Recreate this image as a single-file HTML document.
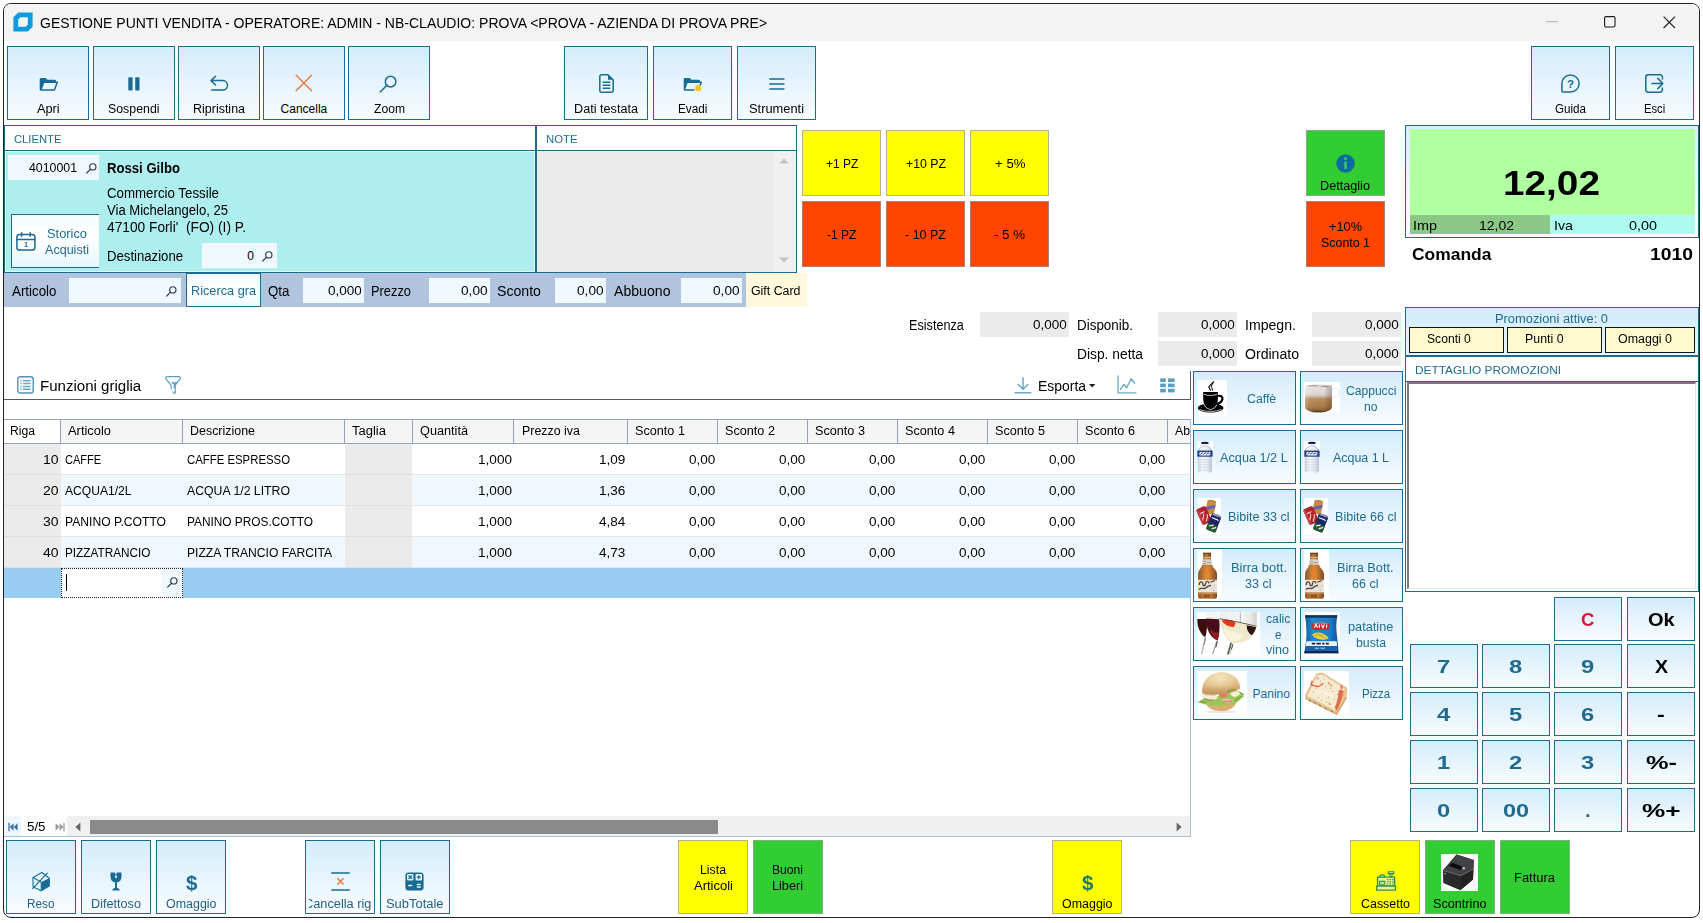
<!DOCTYPE html>
<html lang="it"><head><meta charset="utf-8"><title>Gestione Punti Vendita</title>
<style>

html,body{margin:0;padding:0}
body{width:1703px;height:923px;position:relative;overflow:hidden;background:#fff;font-family:"Liberation Sans",sans-serif;color:#000}
div,span,svg{position:absolute;box-sizing:border-box}
.t{white-space:pre;transform-origin:0 0}
.i{overflow:visible}
.b{border:1px solid #1f6b8f;background:linear-gradient(#d3ecfb,#f9fcff)}
.f{background:#f0f8ff}
.g{background:#ebebeb}
.y{background:#ffff00;border:1px solid #b4b48c}
.r{background:#ff4500;border:1px solid #b08070}
.gr{background:#32cd32;border:1px solid #7fb07f}

</style></head>
<body>
<div style="left:3px;top:3px;width:1697px;height:915px;border:1px solid #242424;border-radius:8px;background:#fff"></div>
<div style="left:4px;top:4px;width:1695px;height:37px;background:#f3f3f3;border-radius:7px 7px 0 0"></div>
<svg class="i" style="left:13px;top:12px" width="20" height="20" viewBox="0 0 20 20"><path d="M5.2.4H19.6V14.8L14.8 19.6H.4V5.2z" fill="#0f9ade"/><path d="M7.4 5.2h7.4v7.4l-2.2 2.2H5.2V7.4z" fill="#f0f9ff"/></svg>
<span class="t" style="left:40.0px;top:15.6px;font-size:14.6px;line-height:14.6px;transform:scaleX(0.960);">GESTIONE PUNTI VENDITA - OPERATORE: ADMIN - NB-CLAUDIO: PROVA &lt;PROVA - AZIENDA DI PROVA PRE&gt;</span>
<svg class="i" style="left:1546px;top:21px" width="12" height="2" viewBox="0 0 12 2"><path d="M0 .7h12" stroke="#b4b4b4" stroke-width="1"/></svg>
<svg class="i" style="left:1604px;top:16px" width="12" height="12" viewBox="0 0 12 12"><rect x=".6" y=".6" width="10.4" height="10.4" rx="1.4" fill="none" stroke="#1a1a1a" stroke-width="1.1"/></svg>
<svg class="i" style="left:1663px;top:16px" width="13" height="13" viewBox="0 0 13 13"><path d="M.6.6 12 12M12 .6.6 12" stroke="#1a1a1a" stroke-width="1.1"/></svg>
<div class="b" style="left:7px;top:46px;width:82px;height:74px;"></div>
<svg class="i" style="left:38.5px;top:76.5px" width="20" height="15" viewBox="0 0 20 15"><path d="M0.7 2.2a1.3 1.3 0 0 1 1.3-1.3h4.6l1.9 1.9h7.2a1.3 1.3 0 0 1 1.3 1.3v1.3H5.6a1.2 1.2 0 0 0-1.1.8L1.9 13.2a.8.8 0 0 1-1.2-.6z" fill="#1a6b93"/><path d="M4.7 5.2h13.6l-2.9 7.9H1.9z" fill="none" stroke="#1a6b93" stroke-width="1.5" stroke-linejoin="round"/></svg>
<span class="t" style="left:36.6px;top:102.8px;font-size:12px;line-height:12px;transform:scaleX(1.064);">Apri</span>
<div class="b" style="left:93px;top:46px;width:82px;height:74px;"></div>
<svg class="i" style="left:128px;top:77px" width="12" height="14" viewBox="0 0 12 14"><rect x="0.3" y="0.3" width="4.3" height="13.2" rx="0.9" fill="#1a6b93"/><rect x="7.2" y="0.3" width="4.3" height="13.2" rx="0.9" fill="#1a6b93"/></svg>
<span class="t" style="left:108.2px;top:102.8px;font-size:12px;line-height:12px;transform:scaleX(1.029);">Sospendi</span>
<div class="b" style="left:178px;top:46px;width:82px;height:74px;"></div>
<svg class="i" style="left:209.5px;top:75px" width="20" height="17" viewBox="0 0 20 17"><path d="M5.6 1.2 1 5.6l4.6 4.4M1.2 5.6h11.6a4.7 4.7 0 0 1 0 9.4H1.6" fill="none" stroke="#1a6b93" stroke-width="1.5" stroke-linecap="round" stroke-linejoin="round"/></svg>
<span class="t" style="left:193.0px;top:102.8px;font-size:12px;line-height:12px;transform:scaleX(1.040);">Ripristina</span>
<div class="b" style="left:263px;top:46px;width:82px;height:74px;"></div>
<svg class="i" style="left:295px;top:74px" width="18" height="18" viewBox="0 0 18 18"><path d="M1.2 1.2 16.6 16.8M16.6 1.2 1.2 16.8" stroke="#ea7a45" stroke-width="1.5" stroke-linecap="round"/></svg>
<span class="t" style="left:280.6px;top:102.8px;font-size:12px;line-height:12px;">Cancella</span>
<div class="b" style="left:348px;top:46px;width:82px;height:74px;"></div>
<svg class="i" style="left:379px;top:74.5px" width="18" height="18" viewBox="0 0 18 18"><circle cx="11.6" cy="6.6" r="5.3" fill="none" stroke="#1a6b93" stroke-width="1.5"/><path d="M7.8 10.4 1.2 17" stroke="#1a6b93" stroke-width="1.5" stroke-linecap="round"/></svg>
<span class="t" style="left:373.5px;top:102.8px;font-size:12px;line-height:12px;transform:scaleX(1.010);">Zoom</span>
<div class="b" style="left:564px;top:46px;width:84px;height:74px;"></div>
<svg class="i" style="left:599px;top:74px" width="15" height="19" viewBox="0 0 15 19"><path d="M2.6 0.8h6.3l5.3 5.3v10.3a1.8 1.8 0 0 1-1.8 1.8H2.6a1.8 1.8 0 0 1-1.8-1.8V2.6A1.8 1.8 0 0 1 2.6.8z" fill="none" stroke="#1a6b93" stroke-width="1.5" stroke-linejoin="round"/><path d="M9 .9v4.9h5z" fill="#1a6b93"/><path d="M3.7 8.3h7.6M3.7 11.3h7.6M3.7 14.3h7.6" stroke="#1a6b93" stroke-width="1.5"/></svg>
<span class="t" style="left:574.0px;top:102.8px;font-size:12px;line-height:12px;transform:scaleX(1.054);">Dati testata</span>
<div class="b" style="left:653px;top:46px;width:79px;height:74px;"></div>
<svg class="i" style="left:682.5px;top:76.5px" width="20" height="15" viewBox="0 0 20 15"><path d="M0.7 2.2a1.3 1.3 0 0 1 1.3-1.3h4.6l1.9 1.9h7.2a1.3 1.3 0 0 1 1.3 1.3v1.3H5.6a1.2 1.2 0 0 0-1.1.8L1.9 13.2a.8.8 0 0 1-1.2-.6z" fill="#1a6b93"/><path d="M4.7 5.2h13.6l-1.2 3.2M11 13.1H1.9z" fill="none" stroke="#1a6b93" stroke-width="1.5" stroke-linejoin="round" stroke-linecap="round"/><circle cx="15.3" cy="11.2" r="3.1" fill="#f7c81e"/></svg>
<span class="t" style="left:677.8px;top:102.8px;font-size:12px;line-height:12px;transform:scaleX(0.979);">Evadi</span>
<div class="b" style="left:737px;top:46px;width:79px;height:74px;"></div>
<svg class="i" style="left:768.5px;top:77.5px" width="16" height="12" viewBox="0 0 16 12"><path d="M.3 1h15.2M.3 6h15.2M.3 11h15.2" stroke="#1a6b93" stroke-width="1.6"/></svg>
<span class="t" style="left:749.0px;top:102.8px;font-size:12px;line-height:12px;transform:scaleX(1.071);">Strumenti</span>
<div class="b" style="left:1531px;top:46px;width:79px;height:74px;"></div>
<svg class="i" style="left:1561px;top:74px" width="19" height="19" viewBox="0 0 19 19"><path d="M9.5.9a8.6 8.6 0 0 1 0 17.2H1.9a1 1 0 0 1-1-1V9.5A8.6 8.6 0 0 1 9.5.9z" fill="none" stroke="#1a6b93" stroke-width="1.5"/><text x="9.6" y="13.6" text-anchor="middle" font-family="Liberation Sans, sans-serif" font-weight="700" font-size="11.5" fill="#1a6b93">?</text></svg>
<span class="t" style="left:1555.0px;top:102.8px;font-size:12px;line-height:12px;transform:scaleX(0.968);">Guida</span>
<div class="b" style="left:1615px;top:46px;width:79px;height:74px;"></div>
<svg class="i" style="left:1645px;top:74px" width="19" height="19" viewBox="0 0 19 19"><path d="M17.4 5V3.2A2.4 2.4 0 0 0 15 .8H3.2A2.4 2.4 0 0 0 .8 3.2v12.6a2.4 2.4 0 0 0 2.4 2.4H15a2.4 2.4 0 0 0 2.4-2.4V14" fill="none" stroke="#1a6b93" stroke-width="1.5" stroke-linecap="round"/><path d="M7 9.5h10.6M12.8 4.4l5 5.1-5 5.1" fill="none" stroke="#1a6b93" stroke-width="1.5" stroke-linecap="round" stroke-linejoin="round"/></svg>
<span class="t" style="left:1643.9px;top:102.8px;font-size:12px;line-height:12px;transform:scaleX(0.935);">Esci</span>
<div style="left:4px;top:125px;width:533px;height:148px;border:1px solid #1f6b8f;background:#fff"></div>
<div style="left:5px;top:150px;width:531px;height:1px;background:#1f6b8f"></div>
<div style="left:5px;top:151px;width:530px;height:121px;background:#afeeee;border:1px solid #e2fafa"></div>
<span class="t" style="left:13.5px;top:133.7px;font-size:11px;line-height:11px;color:#1f6b8f;transform:scaleX(1.022);">CLIENTE</span>
<div class="f" style="left:8px;top:155px;width:91px;height:25px;"></div>
<span class="t" style="left:28.9px;top:161.8px;font-size:12px;line-height:12px;transform:scaleX(1.030);">4010001</span>
<svg class="i" style="left:86px;top:162.6px" width="10.6" height="10.6" viewBox="0 0 18 18"><circle cx="11.6" cy="6.6" r="5.3" fill="none" stroke="#363c4e" stroke-width="2"/><path d="M7.8 10.4 1.2 17" stroke="#363c4e" stroke-width="2" stroke-linecap="round"/></svg>
<span class="t" style="left:107.0px;top:161.1px;font-size:14px;line-height:14px;font-weight:700;transform:scaleX(0.938);">Rossi Gilbo</span>
<span class="t" style="left:107.0px;top:186.1px;font-size:14px;line-height:14px;transform:scaleX(0.949);">Commercio Tessile</span>
<span class="t" style="left:107.0px;top:203.1px;font-size:14px;line-height:14px;transform:scaleX(0.933);">Via Michelangelo, 25</span>
<span class="t" style="left:107.0px;top:220.1px;font-size:14px;line-height:14px;transform:scaleX(0.981);">47100 Forli'  (FO) (I) P.</span>
<span class="t" style="left:107.0px;top:249.1px;font-size:14px;line-height:14px;transform:scaleX(0.939);">Destinazione</span>
<div class="f" style="left:202px;top:243px;width:75px;height:25px;"></div>
<span class="t" style="left:247.3px;top:249.8px;font-size:12px;line-height:12px;">0</span>
<svg class="i" style="left:262px;top:250.6px" width="10.6" height="10.6" viewBox="0 0 18 18"><circle cx="11.6" cy="6.6" r="5.3" fill="none" stroke="#363c4e" stroke-width="2"/><path d="M7.8 10.4 1.2 17" stroke="#363c4e" stroke-width="2" stroke-linecap="round"/></svg>
<div style="left:11px;top:214px;width:88px;height:54px;border:1px solid #1f6b8f;border-right:none;background:linear-gradient(#f4fbff,#fff 40%,#e6f5fd)"></div>
<svg class="i" style="left:15.5px;top:232px" width="20" height="19" viewBox="0 0 20 19"><rect x=".9" y="2.6" width="18" height="15.4" rx="2.6" fill="none" stroke="#1a6b93" stroke-width="1.5"/><path d="M1 7.4h18M5.6.8v3.4M14.2.8v3.4" stroke="#1a6b93" stroke-width="1.5" stroke-linecap="round"/><text x="9.9" y="15.4" text-anchor="middle" font-family="Liberation Sans, sans-serif" font-weight="700" font-size="7" fill="#1a6b93">1</text></svg>
<span class="t" style="left:47.0px;top:227.0px;font-size:13px;line-height:13px;color:#1f6b8f;transform:scaleX(0.988);">Storico</span>
<span class="t" style="left:45.0px;top:243.0px;font-size:13px;line-height:13px;color:#1f6b8f;transform:scaleX(0.966);">Acquisti</span>
<div style="left:535px;top:125px;width:262px;height:148px;border:1px solid #1f6b8f;border-left-width:2px;background:#fff"></div>
<div style="left:537px;top:150px;width:259px;height:1px;background:#1f6b8f"></div>
<div style="left:537px;top:151px;width:259px;height:121px;background:#ebebeb"></div>
<div style="left:773px;top:151px;width:23px;height:121px;background:#f0f0f0"></div>
<svg class="i" style="left:779px;top:158px" width="10" height="6" viewBox="0 0 10 6"><path d="M0 5.5 5 .5l5 5z" fill="#c3c3c3"/></svg>
<svg class="i" style="left:779px;top:257px" width="10" height="6" viewBox="0 0 10 6"><path d="M0 .5 5 5.5l5-5z" fill="#c3c3c3"/></svg>
<span class="t" style="left:545.5px;top:133.7px;font-size:11px;line-height:11px;color:#1f6b8f;transform:scaleX(1.031);">NOTE</span>
<div style="left:4px;top:273px;width:742px;height:34px;background:#b0c4de"></div>
<div style="left:746px;top:273px;width:61px;height:34px;background:#fff8dc"></div>
<span class="t" style="left:11.5px;top:284.1px;font-size:14px;line-height:14px;transform:scaleX(0.953);">Articolo</span>
<div class="f" style="left:69px;top:278px;width:112px;height:25px;"></div>
<svg class="i" style="left:166px;top:285.6px" width="10.6" height="10.6" viewBox="0 0 18 18"><circle cx="11.6" cy="6.6" r="5.3" fill="none" stroke="#363c4e" stroke-width="2"/><path d="M7.8 10.4 1.2 17" stroke="#363c4e" stroke-width="2" stroke-linecap="round"/></svg>
<div style="left:186px;top:273px;width:75px;height:34px;border:1px solid #1f6b8f;background:linear-gradient(#eef8fe,#fff 45%,#f2faff)"></div>
<span class="t" style="left:191.0px;top:284.4px;font-size:13px;line-height:13px;color:#1f6b8f;transform:scaleX(0.978);">Ricerca gra</span>
<span class="t" style="left:268.0px;top:284.1px;font-size:14px;line-height:14px;transform:scaleX(0.952);">Qta</span>
<div class="f" style="left:303px;top:278px;width:61px;height:25px;"></div>
<span class="t" style="left:327.6px;top:284.8px;font-size:12px;line-height:12px;transform:scaleX(1.125);">0,000</span>
<span class="t" style="left:371.0px;top:284.1px;font-size:14px;line-height:14px;transform:scaleX(0.918);">Prezzo</span>
<div class="f" style="left:429px;top:278px;width:61px;height:25px;"></div>
<span class="t" style="left:460.8px;top:284.8px;font-size:12px;line-height:12px;transform:scaleX(1.139);">0,00</span>
<span class="t" style="left:497.0px;top:284.1px;font-size:14px;line-height:14px;transform:scaleX(1.009);">Sconto</span>
<div class="f" style="left:555px;top:278px;width:51px;height:25px;"></div>
<span class="t" style="left:576.8px;top:284.8px;font-size:12px;line-height:12px;transform:scaleX(1.139);">0,00</span>
<span class="t" style="left:613.5px;top:284.1px;font-size:14px;line-height:14px;transform:scaleX(1.008);">Abbuono</span>
<div class="f" style="left:681px;top:278px;width:61px;height:25px;"></div>
<span class="t" style="left:712.8px;top:284.8px;font-size:12px;line-height:12px;transform:scaleX(1.139);">0,00</span>
<span class="t" style="left:751.0px;top:284.8px;font-size:12px;line-height:12px;transform:scaleX(1.031);">Gift Card</span>
<div class="y" style="left:802px;top:130px;width:79px;height:66px;"></div>
<div class="y" style="left:886px;top:130px;width:79px;height:66px;"></div>
<div class="y" style="left:970px;top:130px;width:79px;height:66px;"></div>
<div class="r" style="left:802px;top:201px;width:79px;height:66px;"></div>
<div class="r" style="left:886px;top:201px;width:79px;height:66px;"></div>
<div class="r" style="left:970px;top:201px;width:79px;height:66px;"></div>
<span class="t" style="left:825.8px;top:157.8px;font-size:12px;line-height:12px;transform:scaleX(1.004);">+1 PZ</span>
<span class="t" style="left:905.5px;top:157.8px;font-size:12px;line-height:12px;transform:scaleX(1.025);">+10 PZ</span>
<span class="t" style="left:994.5px;top:157.8px;font-size:12px;line-height:12px;transform:scaleX(1.102);">+ 5%</span>
<span class="t" style="left:826.8px;top:228.8px;font-size:12px;line-height:12px;transform:scaleX(1.005);">-1 PZ</span>
<span class="t" style="left:905.0px;top:228.8px;font-size:12px;line-height:12px;transform:scaleX(1.042);">- 10 PZ</span>
<span class="t" style="left:994.0px;top:228.8px;font-size:12px;line-height:12px;transform:scaleX(1.107);">- 5 %</span>
<div class="gr" style="left:1306px;top:130px;width:79px;height:66px;"></div>
<svg class="i" style="left:1335.5px;top:153.5px" width="19" height="19" viewBox="0 0 19 19"><circle cx="9.5" cy="9.5" r="9.3" fill="#0d6c9c"/><rect x="8.4" y="7.6" width="2.3" height="7.4" rx=".5" fill="#3ccf78"/><circle cx="9.5" cy="4.7" r="1.4" fill="#3ccf78"/></svg>
<span class="t" style="left:1320.0px;top:179.8px;font-size:12px;line-height:12px;transform:scaleX(1.055);">Dettaglio</span>
<div class="r" style="left:1306px;top:201px;width:79px;height:66px;"></div>
<span class="t" style="left:1329.0px;top:220.8px;font-size:12px;line-height:12px;transform:scaleX(1.063);">+10%</span>
<span class="t" style="left:1321.0px;top:236.8px;font-size:12px;line-height:12px;transform:scaleX(1.034);">Sconto 1</span>
<div style="left:1405px;top:125px;width:294px;height:113px;border:1px solid #1f6b8f;background:linear-gradient(#d6edfb,#fff)"></div>
<div style="left:1410px;top:129px;width:285px;height:87px;background:#b0ffa0"></div>
<div style="left:1410px;top:215px;width:140px;height:19px;background:#8bc885"></div>
<div style="left:1550px;top:215px;width:145px;height:19px;background:#adfbef"></div>
<span class="t" style="left:1503.0px;top:165.4px;font-size:35px;line-height:35px;font-weight:700;transform:scaleX(1.107);">12,02</span>
<span class="t" style="left:1413.0px;top:218.6px;font-size:13.5px;line-height:13.5px;transform:scaleX(1.066);">Imp</span>
<span class="t" style="left:1479.0px;top:218.6px;font-size:13.5px;line-height:13.5px;transform:scaleX(1.036);">12,02</span>
<span class="t" style="left:1554.0px;top:218.6px;font-size:13.5px;line-height:13.5px;transform:scaleX(1.055);">Iva</span>
<span class="t" style="left:1629.0px;top:218.6px;font-size:13.5px;line-height:13.5px;transform:scaleX(1.065);">0,00</span>
<span class="t" style="left:1412.0px;top:246.0px;font-size:16.5px;line-height:16.5px;font-weight:700;transform:scaleX(1.057);">Comanda</span>
<span class="t" style="left:1650.0px;top:246.0px;font-size:16.5px;line-height:16.5px;font-weight:700;transform:scaleX(1.171);">1010</span>
<span class="t" style="left:908.8px;top:318.1px;font-size:14px;line-height:14px;transform:scaleX(0.903);">Esistenza</span>
<div class="g" style="left:980px;top:312px;width:89px;height:25px;"></div>
<span class="t" style="left:1033.0px;top:318.8px;font-size:12px;line-height:12px;transform:scaleX(1.125);">0,000</span>
<span class="t" style="left:1077.0px;top:318.1px;font-size:14px;line-height:14px;transform:scaleX(0.959);">Disponib.</span>
<div class="g" style="left:1158px;top:312px;width:79px;height:25px;"></div>
<span class="t" style="left:1201.0px;top:318.8px;font-size:12px;line-height:12px;transform:scaleX(1.125);">0,000</span>
<span class="t" style="left:1244.5px;top:318.1px;font-size:14px;line-height:14px;transform:scaleX(1.008);">Impegn.</span>
<div class="g" style="left:1312px;top:312px;width:89px;height:25px;"></div>
<span class="t" style="left:1365.0px;top:318.8px;font-size:12px;line-height:12px;transform:scaleX(1.125);">0,000</span>
<span class="t" style="left:1077.0px;top:347.1px;font-size:14px;line-height:14px;transform:scaleX(0.986);">Disp. netta</span>
<div class="g" style="left:1158px;top:341px;width:79px;height:25px;"></div>
<span class="t" style="left:1201.0px;top:347.8px;font-size:12px;line-height:12px;transform:scaleX(1.125);">0,000</span>
<span class="t" style="left:1244.5px;top:347.1px;font-size:14px;line-height:14px;transform:scaleX(1.006);">Ordinato</span>
<div class="g" style="left:1312px;top:341px;width:89px;height:25px;"></div>
<span class="t" style="left:1365.0px;top:347.8px;font-size:12px;line-height:12px;transform:scaleX(1.125);">0,000</span>
<div style="left:1405px;top:307px;width:294px;height:49px;border:1px solid #1f6b8f;background:linear-gradient(#d2ebfb,#eaf6fd)"></div>
<span class="t" style="left:1495.0px;top:312.6px;font-size:12px;line-height:12px;color:#1f6b8f;transform:scaleX(1.072);">Promozioni attive: 0</span>
<div style="left:1409px;top:327px;width:95px;height:26px;background:#fffacd;border:1px solid #101418"></div>
<span class="t" style="left:1426.7px;top:332.8px;font-size:12px;line-height:12px;transform:scaleX(1.010);">Sconti 0</span>
<div style="left:1507px;top:327px;width:95px;height:26px;background:#fffacd;border:1px solid #101418"></div>
<span class="t" style="left:1525.2px;top:332.8px;font-size:12px;line-height:12px;transform:scaleX(1.031);">Punti 0</span>
<div style="left:1605px;top:327px;width:90px;height:26px;background:#fffacd;border:1px solid #101418"></div>
<span class="t" style="left:1617.5px;top:332.8px;font-size:12px;line-height:12px;transform:scaleX(1.038);">Omaggi 0</span>
<div style="left:1405px;top:356px;width:294px;height:236px;border:1px solid #1f6b8f;background:#fff"></div>
<div style="left:1406px;top:381px;width:292px;height:1px;background:#1f6b8f"></div>
<span class="t" style="left:1414.5px;top:364.7px;font-size:11px;line-height:11px;color:#1f6b8f;transform:scaleX(1.078);">DETTAGLIO PROMOZIONI</span>
<div style="left:1407px;top:382px;width:289px;height:207px;border-top:2px solid #7a7a7a;border-left:2px solid #7a7a7a;border-right:1px solid #e3e3e3;border-bottom:1px solid #e3e3e3;background:#fff"></div>
<svg class="i" style="left:17.2px;top:375.8px" width="17" height="18" viewBox="0 0 17 18"><rect x=".8" y=".8" width="15.4" height="16.2" rx="2.6" fill="none" stroke="#4f93b6" stroke-width="1.4"/><path d="M3.4 4.800h1.300M6 4.800h7.600M3.4 7.600h1.300M6 7.600h7.600M3.4 10.400h1.300M6 10.400h7.600M3.4 13.200h1.300M6 13.200h7.6" stroke="#68a9c9" stroke-width="1.5"/></svg>
<span class="t" style="left:40.2px;top:379.1px;font-size:14px;line-height:14px;transform:scaleX(1.075);">Funzioni griglia</span>
<svg class="i" style="left:165px;top:376.1px" width="16" height="18" viewBox="0 0 16 18"><path d="M2.2.7h11.600a1.5 1.5 0 0 1 1.2 2.400L10.2 9v6.200a1.2 1.2 0 1 1-1.8.2" fill="none" stroke="#5a9cc0" stroke-width="1.2" stroke-linejoin="round"/><path d="M2.2.7A1.5 1.5 0 0 0 1 3.100L6.2 9.400v3.8" fill="none" stroke="#5a9cc0" stroke-width="1.2" stroke-linejoin="round"/><path d="M6.8 7h5.400M9.4 7v5" stroke="#5a9cc0" stroke-width="1.5"/></svg>
<svg class="i" style="left:1014px;top:377px" width="18" height="17" viewBox="0 0 18 17"><path d="M9 .8v11M4.2 7.6 9 12.3l4.8-4.7" fill="none" stroke="#5fa3c2" stroke-width="1.4" stroke-linecap="round" stroke-linejoin="round"/><path d="M.6 15.8h16.8" stroke="#5fa3c2" stroke-width="1.4"/></svg>
<span class="t" style="left:1038.0px;top:379.1px;font-size:14px;line-height:14px;transform:scaleX(0.995);">Esporta</span>
<svg class="i" style="left:1089px;top:384px" width="7" height="4" viewBox="0 0 7 4"><path d="M0 0h6.4L3.2 3.6z" fill="#222"/></svg>
<svg class="i" style="left:1117px;top:375px" width="20" height="19" viewBox="0 0 20 19"><path d="M1 .6v17.2h18.4" fill="none" stroke="#6aa9c6" stroke-width="1.3"/><path d="M3.6 14.4l3.4-5 2.6 3.4 4.6-9 3.4 4.2" fill="none" stroke="#6aa9c6" stroke-width="1.4" stroke-linejoin="round" stroke-linecap="round"/></svg>
<svg class="i" style="left:1160px;top:377.5px" width="15" height="15" viewBox="0 0 15 15"><rect x="0.2" y="0.4" width="5.6" height="3.6" fill="#5b9dbd"/><rect x="8" y="0.4" width="6.6" height="3.6" fill="#5b9dbd"/><rect x="0.2" y="5.6" width="5.6" height="3.6" fill="#5b9dbd"/><rect x="8" y="5.6" width="6.6" height="3.6" fill="#5b9dbd"/><rect x="0.2" y="10.8" width="5.6" height="3.6" fill="#5b9dbd"/><rect x="8" y="10.8" width="6.6" height="3.6" fill="#5b9dbd"/></svg>
<div style="left:4px;top:399px;width:1187px;height:1px;background:#5a5a5a"></div>
<div style="left:1190px;top:371px;width:1px;height:29px;background:#5a5a5a"></div>
<div style="left:1190px;top:419px;width:1px;height:418px;background:#a9bfd6"></div>
<div style="left:4px;top:419px;width:1186px;height:25px;background:#f5f5f5;border-top:1px solid #90a5c1;border-bottom:1px solid #90a5c1"></div>
<div style="left:4px;top:420px;width:56px;height:23px;background:#fff"></div>
<span class="t" style="left:10.0px;top:424.8px;font-size:12px;line-height:12px;transform:scaleX(1.013);">Riga</span>
<div style="left:60px;top:420px;width:1px;height:23px;background:#90a5c1"></div>
<span class="t" style="left:68.0px;top:424.8px;font-size:12px;line-height:12px;transform:scaleX(1.075);">Articolo</span>
<div style="left:182px;top:420px;width:1px;height:23px;background:#90a5c1"></div>
<span class="t" style="left:190.0px;top:424.8px;font-size:12px;line-height:12px;transform:scaleX(1.037);">Descrizione</span>
<div style="left:344px;top:420px;width:1px;height:23px;background:#90a5c1"></div>
<span class="t" style="left:352.0px;top:424.8px;font-size:12px;line-height:12px;transform:scaleX(1.084);">Taglia</span>
<div style="left:412px;top:420px;width:1px;height:23px;background:#90a5c1"></div>
<span class="t" style="left:420.0px;top:424.8px;font-size:12px;line-height:12px;transform:scaleX(1.058);">Quantità</span>
<div style="left:513px;top:420px;width:1px;height:23px;background:#90a5c1"></div>
<span class="t" style="left:521.5px;top:424.8px;font-size:12px;line-height:12px;transform:scaleX(1.035);">Prezzo iva</span>
<div style="left:627px;top:420px;width:1px;height:23px;background:#90a5c1"></div>
<span class="t" style="left:635.0px;top:424.8px;font-size:12px;line-height:12px;transform:scaleX(1.055);">Sconto 1</span>
<div style="left:717px;top:420px;width:1px;height:23px;background:#90a5c1"></div>
<span class="t" style="left:725.0px;top:424.8px;font-size:12px;line-height:12px;transform:scaleX(1.055);">Sconto 2</span>
<div style="left:807px;top:420px;width:1px;height:23px;background:#90a5c1"></div>
<span class="t" style="left:815.0px;top:424.8px;font-size:12px;line-height:12px;transform:scaleX(1.055);">Sconto 3</span>
<div style="left:897px;top:420px;width:1px;height:23px;background:#90a5c1"></div>
<span class="t" style="left:905.0px;top:424.8px;font-size:12px;line-height:12px;transform:scaleX(1.055);">Sconto 4</span>
<div style="left:987px;top:420px;width:1px;height:23px;background:#90a5c1"></div>
<span class="t" style="left:995.0px;top:424.8px;font-size:12px;line-height:12px;transform:scaleX(1.055);">Sconto 5</span>
<div style="left:1077px;top:420px;width:1px;height:23px;background:#90a5c1"></div>
<span class="t" style="left:1085.0px;top:424.8px;font-size:12px;line-height:12px;transform:scaleX(1.055);">Sconto 6</span>
<div style="left:1167px;top:420px;width:1px;height:23px;background:#90a5c1"></div>
<span class="t" style="left:1175.0px;top:424.8px;font-size:12px;line-height:12px;transform:scaleX(1.021);">Ab</span>
<div style="left:4px;top:444px;width:1186px;height:31px;background:#fff;border-bottom:1px solid #e4e8ee"></div>
<div style="left:4px;top:444px;width:57px;height:31px;background:#ebebeb;border-bottom:1px solid #e0e0e0"></div>
<div style="left:345px;top:444px;width:67px;height:31px;background:#ebebeb;border-bottom:1px solid #e0e0e0"></div>
<span class="t" style="left:42.7px;top:453.8px;font-size:12px;line-height:12px;transform:scaleX(1.168);">10</span>
<span class="t" style="left:65.0px;top:453.8px;font-size:12px;line-height:12px;transform:scaleX(0.920);">CAFFE</span>
<span class="t" style="left:187.0px;top:453.8px;font-size:12px;line-height:12px;transform:scaleX(0.948);">CAFFE ESPRESSO</span>
<span class="t" style="left:478.2px;top:453.8px;font-size:12px;line-height:12px;transform:scaleX(1.132);">1,000</span>
<span class="t" style="left:599.0px;top:453.8px;font-size:12px;line-height:12px;transform:scaleX(1.130);">1,09</span>
<span class="t" style="left:689.0px;top:453.8px;font-size:12px;line-height:12px;transform:scaleX(1.130);">0,00</span>
<span class="t" style="left:779.0px;top:453.8px;font-size:12px;line-height:12px;transform:scaleX(1.130);">0,00</span>
<span class="t" style="left:869.0px;top:453.8px;font-size:12px;line-height:12px;transform:scaleX(1.130);">0,00</span>
<span class="t" style="left:959.0px;top:453.8px;font-size:12px;line-height:12px;transform:scaleX(1.130);">0,00</span>
<span class="t" style="left:1049.0px;top:453.8px;font-size:12px;line-height:12px;transform:scaleX(1.130);">0,00</span>
<span class="t" style="left:1139.0px;top:453.8px;font-size:12px;line-height:12px;transform:scaleX(1.130);">0,00</span>
<div style="left:4px;top:475px;width:1186px;height:31px;background:#f0f8ff;border-bottom:1px solid #e4e8ee"></div>
<div style="left:4px;top:475px;width:57px;height:31px;background:#ebebeb;border-bottom:1px solid #e0e0e0"></div>
<div style="left:345px;top:475px;width:67px;height:31px;background:#ebebeb;border-bottom:1px solid #e0e0e0"></div>
<span class="t" style="left:42.7px;top:484.8px;font-size:12px;line-height:12px;transform:scaleX(1.168);">20</span>
<span class="t" style="left:65.0px;top:484.8px;font-size:12px;line-height:12px;transform:scaleX(1.007);">ACQUA1/2L</span>
<span class="t" style="left:187.0px;top:484.8px;font-size:12px;line-height:12px;transform:scaleX(1.023);">ACQUA 1/2 LITRO</span>
<span class="t" style="left:478.2px;top:484.8px;font-size:12px;line-height:12px;transform:scaleX(1.132);">1,000</span>
<span class="t" style="left:599.0px;top:484.8px;font-size:12px;line-height:12px;transform:scaleX(1.130);">1,36</span>
<span class="t" style="left:689.0px;top:484.8px;font-size:12px;line-height:12px;transform:scaleX(1.130);">0,00</span>
<span class="t" style="left:779.0px;top:484.8px;font-size:12px;line-height:12px;transform:scaleX(1.130);">0,00</span>
<span class="t" style="left:869.0px;top:484.8px;font-size:12px;line-height:12px;transform:scaleX(1.130);">0,00</span>
<span class="t" style="left:959.0px;top:484.8px;font-size:12px;line-height:12px;transform:scaleX(1.130);">0,00</span>
<span class="t" style="left:1049.0px;top:484.8px;font-size:12px;line-height:12px;transform:scaleX(1.130);">0,00</span>
<span class="t" style="left:1139.0px;top:484.8px;font-size:12px;line-height:12px;transform:scaleX(1.130);">0,00</span>
<div style="left:4px;top:506px;width:1186px;height:31px;background:#fff;border-bottom:1px solid #e4e8ee"></div>
<div style="left:4px;top:506px;width:57px;height:31px;background:#ebebeb;border-bottom:1px solid #e0e0e0"></div>
<div style="left:345px;top:506px;width:67px;height:31px;background:#ebebeb;border-bottom:1px solid #e0e0e0"></div>
<span class="t" style="left:42.7px;top:515.8px;font-size:12px;line-height:12px;transform:scaleX(1.168);">30</span>
<span class="t" style="left:65.0px;top:515.8px;font-size:12px;line-height:12px;transform:scaleX(1.010);">PANINO P.COTTO</span>
<span class="t" style="left:187.0px;top:515.8px;font-size:12px;line-height:12px;transform:scaleX(0.988);">PANINO PROS.COTTO</span>
<span class="t" style="left:478.2px;top:515.8px;font-size:12px;line-height:12px;transform:scaleX(1.132);">1,000</span>
<span class="t" style="left:599.0px;top:515.8px;font-size:12px;line-height:12px;transform:scaleX(1.130);">4,84</span>
<span class="t" style="left:689.0px;top:515.8px;font-size:12px;line-height:12px;transform:scaleX(1.130);">0,00</span>
<span class="t" style="left:779.0px;top:515.8px;font-size:12px;line-height:12px;transform:scaleX(1.130);">0,00</span>
<span class="t" style="left:869.0px;top:515.8px;font-size:12px;line-height:12px;transform:scaleX(1.130);">0,00</span>
<span class="t" style="left:959.0px;top:515.8px;font-size:12px;line-height:12px;transform:scaleX(1.130);">0,00</span>
<span class="t" style="left:1049.0px;top:515.8px;font-size:12px;line-height:12px;transform:scaleX(1.130);">0,00</span>
<span class="t" style="left:1139.0px;top:515.8px;font-size:12px;line-height:12px;transform:scaleX(1.130);">0,00</span>
<div style="left:4px;top:537px;width:1186px;height:31px;background:#f0f8ff;border-bottom:1px solid #e4e8ee"></div>
<div style="left:4px;top:537px;width:57px;height:31px;background:#ebebeb;border-bottom:1px solid #e0e0e0"></div>
<div style="left:345px;top:537px;width:67px;height:31px;background:#ebebeb;border-bottom:1px solid #e0e0e0"></div>
<span class="t" style="left:42.7px;top:546.8px;font-size:12px;line-height:12px;transform:scaleX(1.168);">40</span>
<span class="t" style="left:65.0px;top:546.8px;font-size:12px;line-height:12px;transform:scaleX(0.981);">PIZZATRANCIO</span>
<span class="t" style="left:187.0px;top:546.8px;font-size:12px;line-height:12px;transform:scaleX(1.010);">PIZZA TRANCIO FARCITA</span>
<span class="t" style="left:478.2px;top:546.8px;font-size:12px;line-height:12px;transform:scaleX(1.132);">1,000</span>
<span class="t" style="left:599.0px;top:546.8px;font-size:12px;line-height:12px;transform:scaleX(1.130);">4,73</span>
<span class="t" style="left:689.0px;top:546.8px;font-size:12px;line-height:12px;transform:scaleX(1.130);">0,00</span>
<span class="t" style="left:779.0px;top:546.8px;font-size:12px;line-height:12px;transform:scaleX(1.130);">0,00</span>
<span class="t" style="left:869.0px;top:546.8px;font-size:12px;line-height:12px;transform:scaleX(1.130);">0,00</span>
<span class="t" style="left:959.0px;top:546.8px;font-size:12px;line-height:12px;transform:scaleX(1.130);">0,00</span>
<span class="t" style="left:1049.0px;top:546.8px;font-size:12px;line-height:12px;transform:scaleX(1.130);">0,00</span>
<span class="t" style="left:1139.0px;top:546.8px;font-size:12px;line-height:12px;transform:scaleX(1.130);">0,00</span>
<div style="left:4px;top:568px;width:1186px;height:30px;background:#99ccf3"></div>
<div style="left:61px;top:568px;width:122px;height:30px;background:#fff;border:1px dotted #222"></div>
<div style="left:162px;top:569px;width:20px;height:28px;background:#f0f8ff"></div>
<div style="left:66px;top:574px;width:1px;height:17px;background:#000"></div>
<svg class="i" style="left:167px;top:576.6px" width="10.6" height="10.6" viewBox="0 0 18 18"><circle cx="11.6" cy="6.6" r="5.3" fill="none" stroke="#363c4e" stroke-width="2"/><path d="M7.8 10.4 1.2 17" stroke="#363c4e" stroke-width="2" stroke-linecap="round"/></svg>
<div style="left:4px;top:816px;width:1186px;height:21px;background:#f0f0f0;border-bottom:1px solid #a9bfd6"></div>
<div style="left:4px;top:816px;width:63px;height:20px;background:#fff"></div>
<div style="left:4px;top:816px;width:17px;height:20px;background:#f0f8ff"></div>
<div style="left:90px;top:820px;width:628px;height:14px;background:#8a8a8a"></div>
<svg class="i" style="left:7.5px;top:821.5px" width="10" height="10" viewBox="0 0 10 10"><path d="M1 .8v8.4" stroke="#3b6ea5" stroke-width="1.3"/><path d="M5.6 5 1.8 1.2v7.6zM9.6 5 5.8 1.2v7.6z" fill="#3b6ea5" transform="translate(0,0) scale(-1,1) translate(-11.4,0)"/></svg>
<span class="t" style="left:26.5px;top:820.8px;font-size:12px;line-height:12px;transform:scaleX(1.109);">5/5</span>
<svg class="i" style="left:54.5px;top:821.5px" width="10" height="10" viewBox="0 0 10 10"><path d="M9 .8v8.4" stroke="#999" stroke-width="1.3"/><path d="M4.4 5 .6 1.2v7.6zM8.4 5 4.6 1.2v7.6z" fill="#999"/></svg>
<svg class="i" style="left:75px;top:821.5px" width="6" height="10" viewBox="0 0 6 10"><path d="M5.4.6v8.8L.4 5z" fill="#666"/></svg>
<svg class="i" style="left:1176px;top:821.5px" width="6" height="10" viewBox="0 0 6 10"><path d="M.6.6v8.8L5.6 5z" fill="#666"/></svg>
<svg width="0" height="0" style="left:0;top:0"><defs>
<linearGradient id="gCap" x1="0" y1="0" x2="0" y2="1"><stop offset="0" stop-color="#cfc6c1"/><stop offset=".1" stop-color="#e7e4e4"/><stop offset=".36" stop-color="#dcd5d3"/><stop offset=".46" stop-color="#c9ad92"/><stop offset=".52" stop-color="#b98d5e"/><stop offset=".8" stop-color="#aa7b45"/><stop offset="1" stop-color="#7a5530"/></linearGradient>
<linearGradient id="gCapS" x1="0" y1="0" x2="1" y2="0"><stop offset="0" stop-color="#fff" stop-opacity=".25"/><stop offset=".18" stop-color="#fff" stop-opacity=".05"/><stop offset=".7" stop-color="#000" stop-opacity="0"/><stop offset="1" stop-color="#3a2410" stop-opacity=".3"/></linearGradient>
<linearGradient id="gBot" x1="0" y1="0" x2="1" y2="0"><stop offset="0" stop-color="#c3cedb"/><stop offset=".3" stop-color="#f7f9fc"/><stop offset=".65" stop-color="#e6ecf3"/><stop offset="1" stop-color="#b9c6d4"/></linearGradient>
<linearGradient id="gBeer" x1="0" y1="0" x2="1" y2="0"><stop offset="0" stop-color="#8d5426"/><stop offset=".3" stop-color="#bf7c3a"/><stop offset=".5" stop-color="#d8832c"/><stop offset=".7" stop-color="#b97434"/><stop offset="1" stop-color="#7f4a20"/></linearGradient>
<linearGradient id="gNeck" x1="0" y1="0" x2="1" y2="0"><stop offset="0" stop-color="#7a431a"/><stop offset=".45" stop-color="#b97a3a"/><stop offset="1" stop-color="#6f3c16"/></linearGradient>
<linearGradient id="gBun" x1="0" y1="0" x2="0" y2="1"><stop offset="0" stop-color="#ecd3a6"/><stop offset=".55" stop-color="#ddb67c"/><stop offset="1" stop-color="#c4935a"/></linearGradient>
<radialGradient id="gBunH" cx=".45" cy=".3" r=".55"><stop offset="0" stop-color="#f6e6c4" stop-opacity=".95"/><stop offset="1" stop-color="#f2dcb2" stop-opacity="0"/></radialGradient>
<linearGradient id="gChip" x1="0" y1="0" x2="1" y2="0"><stop offset="0" stop-color="#135a9f"/><stop offset=".25" stop-color="#2089d2"/><stop offset=".75" stop-color="#1b7fca"/><stop offset="1" stop-color="#0f4f93"/></linearGradient>
<linearGradient id="gGl" x1="0" y1="0" x2="1" y2="0"><stop offset="0" stop-color="#f6f6f6"/><stop offset=".6" stop-color="#e9e9e9"/><stop offset="1" stop-color="#cfcfcf"/></linearGradient>
<filter id="bl" x="-10%" y="-10%" width="120%" height="120%"><feGaussianBlur stdDeviation=".45"/></filter>
<filter id="bl2" x="-10%" y="-10%" width="120%" height="120%"><feGaussianBlur stdDeviation=".75"/></filter>
</defs></svg>
<div class="b" style="left:1193px;top:371px;width:103px;height:54px;"></div>
<div class="b" style="left:1300px;top:371px;width:103px;height:54px;"></div>
<div class="b" style="left:1193px;top:430px;width:103px;height:54px;"></div>
<div class="b" style="left:1300px;top:430px;width:103px;height:54px;"></div>
<div class="b" style="left:1193px;top:489px;width:103px;height:54px;"></div>
<div class="b" style="left:1300px;top:489px;width:103px;height:54px;"></div>
<div class="b" style="left:1193px;top:548px;width:103px;height:54px;"></div>
<div class="b" style="left:1300px;top:548px;width:103px;height:54px;"></div>
<div class="b" style="left:1193px;top:607px;width:103px;height:54px;"></div>
<div class="b" style="left:1300px;top:607px;width:103px;height:54px;"></div>
<div class="b" style="left:1193px;top:666px;width:103px;height:54px;"></div>
<div class="b" style="left:1300px;top:666px;width:103px;height:54px;"></div>
<svg class="i" style="left:1197px;top:380px" width="30" height="36" viewBox="0 0 30 36"><rect width="30" height="36" fill="#fff"/><path d="M16.9 1.3 11.7 7.1l2.1 3.7" fill="none" stroke="#000" stroke-width="1.1" stroke-linejoin="round"/><path d="M16.3 2.8c-1.7 2-2.1 3.5-1.5 5l.9 2.9" fill="none" stroke="#000" stroke-width="1"/><ellipse cx="13.6" cy="28" rx="12.8" ry="4.5" fill="#000"/><path d="M2.6 29.400c5.5 2.6 16.5 2.6 22 0" fill="none" stroke="#fff" stroke-width=".75"/><path d="M6.2 12.100h14.700v6.500c0 6.3-3.4 10.4-7.350 10.400S6.2 24.9 6.2 18.600z" fill="#000" stroke="#fff" stroke-width="1.3"/><path d="M6.2 12.100h14.700v6.500c0 6.3-3.4 10.4-7.350 10.400S6.2 24.9 6.2 18.600z" fill="#000"/><path d="M6.8 14.200c4 1.7 9.4 1.7 13.4 0" fill="none" stroke="#fff" stroke-width=".75"/><path d="M21.2 16c5.6-1.4 6.4 5.6-1.8 8.2" fill="none" stroke="#000" stroke-width="2.2"/></svg>
<span class="t" style="left:1246.6px;top:393.4px;font-size:12px;line-height:12px;color:#1f6b8f;transform:scaleX(1.026);">Caffè</span>
<svg class="i" style="left:1304px;top:382px" width="36" height="31" viewBox="0 0 36 31"><rect width="36" height="31" fill="#fff"/><g filter="url(#bl2)"><ellipse cx="31.3" cy="11" rx="3.6" ry="4.5" fill="none" stroke="#e2e2e2" stroke-width=".9"/><path d="M1 4.300C1 3.2 7.5 2.7 14.450 2.700S27.9 3.2 27.9 4.300V24.400c0 4-4.5 5.6-13.450 5.600S1 28.4 1 24.400z" fill="url(#gCap)"/><path d="M1 4.300C1 3.2 7.5 2.7 14.450 2.700S27.9 3.2 27.9 4.300V24.400c0 4-4.5 5.6-13.450 5.600S1 28.4 1 24.400z" fill="url(#gCapS)"/><path d="M5 4.300c3-1 6-.8 8 0M17 5c3-.8 5-.8 7 0" stroke="#8a7468" stroke-width=".9" fill="none" opacity=".8"/><ellipse cx="14.4" cy="29.6" rx="8" ry=".9" fill="#4a3018" opacity=".75"/></g></svg>
<span class="t" style="left:1345.7px;top:385.4px;font-size:12px;line-height:12px;color:#1f6b8f;transform:scaleX(1.007);">Cappucci</span>
<span class="t" style="left:1364.2px;top:400.9px;font-size:12px;line-height:12px;color:#1f6b8f;transform:scaleX(1.011);">no</span>
<svg class="i" style="left:1197px;top:441px" width="16" height="32" viewBox="0 0 16 32"><rect width="16" height="32" fill="#fff"/><g filter="url(#bl)"><ellipse cx="7.9" cy="1.9" rx="3.9" ry="1.2" fill="#151f55"/><path d="M5.6 3.400h4.600c.4 2.2 4.6 3 5 6.600v19.600c0 1.5-1 2.2-2.4 2.200H3c-1.4 0-2.4-.7-2.4-2.200V10C1 6.4 5.2 5.6 5.6 3.400z" fill="url(#gBot)"/><path d="M1.2 9.400C2 6.6 5 5.4 7.9 4.600c2.9.8 5.9 2 6.7 4.8" fill="none" stroke="#aab6c6" stroke-width=".6"/><rect x=".3" y="9.6" width="15.3" height="6.1" fill="#263f88"/><rect x="2.4" y="10.9" width="11" height="3.5" rx="1.2" fill="#f4f6fb"/><path d="M3.4 13.600l1.8-2 1.6 1.6 1.4-1.6 1.6 1.6 1.4-1.6 1.4 1.8" fill="none" stroke="#1a2558" stroke-width=".8"/><path d="M1.4 18.600h13.200M1.4 21.200h13.200M1.4 23.800h13.200M1.4 26.400h13.200M1.4 29h13.2" stroke="#c5d0de" stroke-width=".7"/></g></svg>
<span class="t" style="left:1220.0px;top:451.9px;font-size:12px;line-height:12px;color:#1f6b8f;transform:scaleX(1.058);">Acqua 1/2 L</span>
<svg class="i" style="left:1304px;top:441px" width="16" height="32" viewBox="0 0 16 32"><rect width="16" height="32" fill="#fff"/><g filter="url(#bl)"><ellipse cx="7.9" cy="1.9" rx="3.9" ry="1.2" fill="#151f55"/><path d="M5.6 3.400h4.600c.4 2.2 4.6 3 5 6.600v19.600c0 1.5-1 2.2-2.4 2.200H3c-1.4 0-2.4-.7-2.4-2.200V10C1 6.4 5.2 5.6 5.6 3.400z" fill="url(#gBot)"/><path d="M1.2 9.400C2 6.6 5 5.4 7.9 4.600c2.9.8 5.9 2 6.7 4.8" fill="none" stroke="#aab6c6" stroke-width=".6"/><rect x=".3" y="9.6" width="15.3" height="6.1" fill="#263f88"/><rect x="2.4" y="10.9" width="11" height="3.5" rx="1.2" fill="#f4f6fb"/><path d="M3.4 13.600l1.8-2 1.6 1.6 1.4-1.6 1.6 1.6 1.4-1.6 1.4 1.8" fill="none" stroke="#1a2558" stroke-width=".8"/><path d="M1.4 18.600h13.200M1.4 21.200h13.200M1.4 23.800h13.200M1.4 26.400h13.200M1.4 29h13.2" stroke="#c5d0de" stroke-width=".7"/></g></svg>
<span class="t" style="left:1333.0px;top:451.9px;font-size:12px;line-height:12px;color:#1f6b8f;transform:scaleX(1.036);">Acqua 1 L</span>
<svg class="i" style="left:1197px;top:498px" width="24" height="36" viewBox="0 0 24 36"><rect width="24" height="36" fill="#fff"/><g filter="url(#bl2)"><g transform="rotate(10 13.7 9)"><rect x="9.4" y="2.4" width="8.8" height="13.6" rx="1.6" fill="#c98c3e"/><path d="M9.4 9.6 18.2 6v3.600L9.4 13z" fill="#6b64b4"/><ellipse cx="13.8" cy="2.9" rx="4" ry="1.1" fill="#b98a4a"/></g><g transform="rotate(-24 7 17.5)"><rect x="1.8" y="9" width="10.4" height="17" rx="1.8" fill="#b3212a"/><path d="M3.8 21.600c2-4.4 3.6-2.4 3.2-6.400M6.6 24c2-3.8 3.4-2.6 3.8-6.400M4 14.600c1.6-1 3-1 5-.4" stroke="#f4dcdc" stroke-width="1.1" fill="none"/><rect x="1.8" y="9.4" width="2.2" height="16.2" fill="#d9515a" opacity=".6"/></g><g transform="rotate(22 16.7 25)"><rect x="11.6" y="16.4" width="10.2" height="17.2" rx="1.8" fill="#1b2765"/><rect x="11.6" y="26.6" width="10.2" height="7" rx="1.6" fill="#2a5a36"/><path d="M13 20.400c2.6 1.4 4.6-1 7.4.8M13.4 29.600c2-2.4 3-.4 3.6-3M17 31.400c1.6-2.6 2.6-1 3.4-3.4" stroke="#e8ecf6" stroke-width="1.1" fill="none"/><ellipse cx="16.7" cy="16.8" rx="4.7" ry="1.2" fill="#9098b6"/></g></g></svg>
<span class="t" style="left:1227.5px;top:511.4px;font-size:12px;line-height:12px;color:#1f6b8f;transform:scaleX(1.048);">Bibite 33 cl</span>
<svg class="i" style="left:1304px;top:498px" width="24" height="36" viewBox="0 0 24 36"><rect width="24" height="36" fill="#fff"/><g filter="url(#bl2)"><g transform="rotate(10 13.7 9)"><rect x="9.4" y="2.4" width="8.8" height="13.6" rx="1.6" fill="#c98c3e"/><path d="M9.4 9.6 18.2 6v3.600L9.4 13z" fill="#6b64b4"/><ellipse cx="13.8" cy="2.9" rx="4" ry="1.1" fill="#b98a4a"/></g><g transform="rotate(-24 7 17.5)"><rect x="1.8" y="9" width="10.4" height="17" rx="1.8" fill="#b3212a"/><path d="M3.8 21.600c2-4.4 3.6-2.4 3.2-6.400M6.6 24c2-3.8 3.4-2.6 3.8-6.400M4 14.600c1.6-1 3-1 5-.4" stroke="#f4dcdc" stroke-width="1.1" fill="none"/><rect x="1.8" y="9.4" width="2.2" height="16.2" fill="#d9515a" opacity=".6"/></g><g transform="rotate(22 16.7 25)"><rect x="11.6" y="16.4" width="10.2" height="17.2" rx="1.8" fill="#1b2765"/><rect x="11.6" y="26.6" width="10.2" height="7" rx="1.6" fill="#2a5a36"/><path d="M13 20.400c2.6 1.4 4.6-1 7.4.8M13.4 29.600c2-2.4 3-.4 3.6-3M17 31.400c1.6-2.6 2.6-1 3.4-3.4" stroke="#e8ecf6" stroke-width="1.1" fill="none"/><ellipse cx="16.7" cy="16.8" rx="4.7" ry="1.2" fill="#9098b6"/></g></g></svg>
<span class="t" style="left:1334.5px;top:511.4px;font-size:12px;line-height:12px;color:#1f6b8f;transform:scaleX(1.048);">Bibite 66 cl</span>
<svg class="i" style="left:1197px;top:549px" width="25" height="52" viewBox="0 0 25 52"><rect width="25" height="52" fill="#fff"/><g filter="url(#bl)"><rect x="6.2" y="3.8" width="7.8" height="6.8" fill="url(#gNeck)"/><rect x="6.2" y="7.8" width="7.8" height="1.5" fill="#dcb978"/><rect x="6.2" y="3.8" width="7.8" height="1" fill="#6a3a18"/><path d="M5.4 10.400h9.400l.4 5.400H5z" fill="#d9d2ca"/><path d="M6.4 12.400h2.400M10 13.600h3.600M6 14.800h3" stroke="#9a8a78" stroke-width=".9"/><path d="M5 15.700h10.200c.6 3.6 4.8 5.4 4.8 9.400v22.700c0 1.3-.8 1.9-1.8 1.900H2.900c-1 0-1.8-.6-1.8-1.900V25.100c0-4 3.3-5.8 3.9-9.400z" fill="url(#gBeer)"/><path d="M8.6 20l1.5-3.2 1.5 3.200c1.3 3.4 1.6 6.6 1.4 10.600H7.200c-.2-4 .1-7.2 1.4-10.600z" fill="#e0862a" opacity=".9"/><rect x="1.1" y="30.8" width="18.9" height="12.6" fill="#e8e4dc"/><path d="M2.2 36c0-4 3.4-4 3.6-1.2.2 2.6 2.6 2.4 2.8-.4.2-2.6 3.2-2.6 3.4 0M2 40.400c2.6-2.4 4.6.6 7.4-2 1.6-1.4 3-1 4.6-2.400M13.4 33.200c1.8-1.2 3.6-.6 4.4-2" stroke="#56432e" stroke-width="1.3" fill="none"/><path d="M14.6 38.400l.8.600M16.8 36.400l.8.400M16 41l1 .4" stroke="#a89880" stroke-width=".9"/><rect x="1.1" y="43.4" width="18.9" height="1.2" fill="#c9a070"/><rect x="6.6" y="45.4" width="6.4" height="3.6" fill="#6f3c18" opacity=".6"/></g></svg>
<span class="t" style="left:1230.5px;top:562.4px;font-size:12px;line-height:12px;color:#1f6b8f;transform:scaleX(1.076);">Birra bott.</span>
<span class="t" style="left:1245.2px;top:577.9px;font-size:12px;line-height:12px;color:#1f6b8f;transform:scaleX(1.045);">33 cl</span>
<svg class="i" style="left:1304px;top:549px" width="25" height="52" viewBox="0 0 25 52"><rect width="25" height="52" fill="#fff"/><g filter="url(#bl)"><rect x="6.2" y="3.8" width="7.8" height="6.8" fill="url(#gNeck)"/><rect x="6.2" y="7.8" width="7.8" height="1.5" fill="#dcb978"/><rect x="6.2" y="3.8" width="7.8" height="1" fill="#6a3a18"/><path d="M5.4 10.400h9.400l.4 5.400H5z" fill="#d9d2ca"/><path d="M6.4 12.400h2.400M10 13.600h3.600M6 14.800h3" stroke="#9a8a78" stroke-width=".9"/><path d="M5 15.700h10.200c.6 3.6 4.8 5.4 4.8 9.400v22.700c0 1.3-.8 1.9-1.8 1.900H2.900c-1 0-1.8-.6-1.8-1.900V25.100c0-4 3.3-5.8 3.9-9.400z" fill="url(#gBeer)"/><path d="M8.6 20l1.5-3.2 1.5 3.200c1.3 3.4 1.6 6.6 1.4 10.600H7.200c-.2-4 .1-7.2 1.4-10.600z" fill="#e0862a" opacity=".9"/><rect x="1.1" y="30.8" width="18.9" height="12.6" fill="#e8e4dc"/><path d="M2.2 36c0-4 3.4-4 3.6-1.2.2 2.6 2.6 2.4 2.8-.4.2-2.6 3.2-2.6 3.4 0M2 40.400c2.6-2.4 4.6.6 7.4-2 1.6-1.4 3-1 4.6-2.400M13.4 33.200c1.8-1.2 3.6-.6 4.4-2" stroke="#56432e" stroke-width="1.3" fill="none"/><path d="M14.6 38.400l.8.600M16.8 36.400l.8.400M16 41l1 .4" stroke="#a89880" stroke-width=".9"/><rect x="1.1" y="43.4" width="18.9" height="1.2" fill="#c9a070"/><rect x="6.6" y="45.4" width="6.4" height="3.6" fill="#6f3c18" opacity=".6"/></g></svg>
<span class="t" style="left:1337.0px;top:562.4px;font-size:12px;line-height:12px;color:#1f6b8f;transform:scaleX(1.059);">Birra Bott.</span>
<span class="t" style="left:1352.0px;top:577.9px;font-size:12px;line-height:12px;color:#1f6b8f;transform:scaleX(1.045);">66 cl</span>
<svg class="i" style="left:1197px;top:612px" width="63" height="44" viewBox="0 0 63 44"><rect width="63" height="44" fill="#fff"/><g filter="url(#bl)"><path d="M10.2.3h9.800l2.4 6.4-13-.3z" fill="#f3f3f3"/><path d="M22.4.3H31V8.600l-8.6-1.900z" fill="#eeeeee"/><path d="M31.4.3h11.800v10.600L31.4 8.400z" fill="#f1f1f1"/><path d="M43.7.3h16.100v14.200L43.4 11z" fill="url(#gGl)"/><path d="M43.4.3v10.6" stroke="#8a8a8a" stroke-width=".6"/><path d="M.3 7h9.500c.7 7.2-.1 13.6-1.6 18.300C3.6 22.4-.1 15 .3 7z" fill="#3a0c10"/><path d="M8.2 25.3 4.6 42.4" stroke="#b4b4b4" stroke-width="1.2"/><path d="M8.6 26 7 33" stroke="#555" stroke-width=".7"/><path d="M9.2 6.4 22.3 7.300c.8 8-0 15.6-1.8 21.100C13.6 26 8.6 16.6 9.2 6.400z" fill="#47101a"/><path d="M12.8 17.200c3.6 2.6 6.6 3.4 9.4 3.6-.2 2.8-.8 5.4-1.7 7.6-3.4-1.6-6.4-5.6-7.7-11.200z" fill="#8c1c1e"/><path d="M19.9 29 15.6 42.4" stroke="#a2a2a2" stroke-width="1.3"/><path d="M20.4 29.400l-1.6 6" stroke="#4a1a1a" stroke-width=".9"/><path d="M22.3 6.700C34 8.4 48 11.4 59.5 14.400c-1.4 6.6-5.2 11.6-10.5 14.4-4.2 2.2-9.3 2.9-13.9 2-5.4-3-10-9.4-12.8-24.100z" fill="#efe9cb"/><path d="M24.7 8.600c4.2-1.6 10.4-.8 14.1 2.4-.6 1.8-1.2 3-2.3 4.2-4.8-.4-9.4-2.4-11.8-6.600z" fill="#e23a1a"/><path d="M49.9 13.200l9.3 2c-.8 3-2.2 5.7-4.3 8-3-1.6-5.6-5.4-5-10z" fill="#2a1712"/><path d="M26.4 15.600c6 3.6 14 6 21.6 6.8-3.2 4.4-8 7.2-12.9 7.2-4.4-2.6-7.3-7.8-8.7-14z" fill="#f8f4df" opacity=".85"/><path d="M22.3 6.700C34 8.4 48 11.4 59.5 14.4" stroke="#3a2a1a" stroke-width=".7" fill="none"/><path d="M34.2 30.8 30.8 42.4" stroke="#5c5c4c" stroke-width="1.7"/><path d="M36.2 31.4 32.8 42.4" stroke="#b4b4b4" stroke-width=".9"/><path d="M35.8 32.400l-1.4 5" stroke="#3a1414" stroke-width=".8"/></g></svg>
<span class="t" style="left:1265.6px;top:613.4px;font-size:12px;line-height:12px;color:#1f6b8f;transform:scaleX(1.016);">calic</span>
<span class="t" style="left:1274.5px;top:628.9px;font-size:12px;line-height:12px;color:#1f6b8f;transform:scaleX(0.972);">e</span>
<span class="t" style="left:1266.3px;top:644.4px;font-size:12px;line-height:12px;color:#1f6b8f;transform:scaleX(1.045);">vino</span>
<svg class="i" style="left:1304px;top:612px" width="36" height="44" viewBox="0 0 36 44"><rect width="36" height="44" fill="#fff"/><g filter="url(#bl)"><path d="M1 3.200h32.400c-.9 5-1.3 9.4-1 14 .5 7.6 1.7 14.6 2.2 24H.2c1.6-8.8 2.6-16 2.2-23.600C2.2 12.8 1.8 8 1 3.200z" fill="url(#gChip)"/><path d="M1 3.200h32.400l-.4 2.600H1.400z" fill="#12305e"/><rect x="7.9" y="10.7" width="17.4" height="7" rx="3" fill="#c8262c"/><path d="M10.2 15.800l1.8-3.4 1.7 3.400M15.4 12.400v3.400M17.4 12.400l1.5 3.4 1.5-3.400M22.6 12.400v3.4" stroke="#fff" stroke-width="1.1" fill="none"/><path d="M9.6 12c4.4-1.4 9.6-1.4 14 0" stroke="#f3d9b0" stroke-width=".6" fill="none"/><path d="M8 22.600c3-2.8 7.8-2.6 10.6-1 3 1.2 5.6 3 6 5-3.4 1.4-7.2 1.6-10.2.4C11.6 26.2 9 24.8 8 22.600z" fill="#ecd04a"/><path d="M10.4 23c3.6-.2 8 1.2 12 3.400M12 21.600c2.4.4 5 1.4 7 2.8" stroke="#b8961c" stroke-width=".7" fill="none"/><path d="M2.4 29.300h30.200l.5 4.600H1.800z" fill="#f1f3f6"/><path d="M7.8 31.600h3.400M12.4 31.600h4.400M18.2 31.600h2.200M21.8 31.600h3" stroke="#131f3a" stroke-width="1.8"/><path d="M1.8 33.900h31.300l.7 5.200H1z" fill="#1a62a8"/><path d="M11 36.200h4M16.4 36.200h4.4" stroke="#d6e6f6" stroke-width=".9"/><path d="M.9 39 33.9 39.100l.7 2.100H.2z" fill="#0d2550"/></g></svg>
<span class="t" style="left:1348.3px;top:621.4px;font-size:12px;line-height:12px;color:#1f6b8f;transform:scaleX(1.063);">patatine</span>
<span class="t" style="left:1356.0px;top:636.9px;font-size:12px;line-height:12px;color:#1f6b8f;transform:scaleX(1.022);">busta</span>
<svg class="i" style="left:1197px;top:671px" width="50" height="44" viewBox="0 0 50 44"><rect width="50" height="44" fill="#fff"/><g filter="url(#bl2)"><ellipse cx="24" cy="40.8" rx="16" ry="1.5" fill="#e6e6e6"/><path d="M7.6 29.600c1.4 6.8 7 10.4 16.2 10.4 9 0 14.8-3.8 16.2-10.600z" fill="#d9ad6c"/><path d="M.300 31.400c3.2-1.2 4.8-3.4 8-4.8 3.4-1 6.8-.6 10.2-1.2 6-1.4 12-2.8 17.6-5.6 3.2-.8 6 .2 7.2 2 1.2 1.4 3 2.4 4 3.6-2.4.6-3.2 2.8-5.4 4-2 1.4-3.4 3.6-6 4.2-2.6-1.2-4.4.8-7.4.6-3-1.2-5.6 1.6-8.8.8-2.8-1.4-5.2.6-8.2-1-2.4-1.6-4 .2-6.2-1.2-1.6-1.2-3-.8-5-1.400z" fill="#9cc55a"/><path d="M3 30.400c2.4.8 4.6.2 6.6 1.200M38 29.600c2.6-.6 4.4-2.4 6-4" stroke="#6c9c3a" stroke-width="1.1" fill="none"/><path d="M4.6 25.200c5-2.4 11.4-2.6 16.3.2-.6 2-2.6 3.4-5 3.8-4.4.2-8.6-1.2-11.3-4z" fill="#f3edd6"/><path d="M32.9 21.400c3.4-1.6 7.8-1.6 11 .2-.8 2.2-3.2 3.8-6.2 4.4-2.6-.6-4.4-2.4-4.8-4.600z" fill="#f4efda"/><path d="M21.8 23.200c3-.8 6.4-.8 9 .2-.2 1.8-1.8 3.2-4.2 3.4-2.4-.2-4.2-1.6-4.8-3.600z" fill="#ea7a68"/><path d="M25 28.200c4-.8 8.6-.4 12 .8-1.8 1.8-4.8 2.6-7.8 2.4-2.2-.4-3.8-1.4-4.2-3.200z" fill="#f2b9ad"/><path d="M26.4 30c3 .6 6 .4 9-.4" stroke="#c9605a" stroke-width=".7" fill="none"/><path d="M7.4 27.600c2.6 1.4 5.8 1.8 9.2 1.2" stroke="#6a4c2c" stroke-width=".7" fill="none"/><path d="M5.4 22.600C3.8 10.4 12.6 1.2 24.6 1.200c11 0 18.8 7 18.6 16.4-5.2 3.6-11.6 5.4-18.8 6-6.8.4-13.2 0-19-1z" fill="url(#gBun)"/><path d="M5.4 22.600C3.8 10.4 12.6 1.2 24.6 1.200c11 0 18.8 7 18.6 16.4-5.2 3.6-11.6 5.4-18.8 6-6.8.4-13.2 0-19-1z" fill="url(#gBunH)"/><path d="M30 21.200c2.4-2.4 6.4-3.2 9-2.200M42.4 21l4.4 3" stroke="#72a23c" stroke-width="1.3" fill="none"/><path d="M6 23c4 .8 8 1 12.4.8" stroke="#8a6a3a" stroke-width=".8" fill="none" opacity=".6"/></g></svg>
<span class="t" style="left:1252.6px;top:687.9px;font-size:12px;line-height:12px;color:#1f6b8f;">Panino</span>
<svg class="i" style="left:1304px;top:671px" width="45" height="44" viewBox="0 0 45 44"><rect width="45" height="44" fill="#fff"/><g filter="url(#bl2)"><path d="M12.5 2.400c2-.8 4.6-1 6.7-.3L43 16.800c.6 3 .2 6.2-.6 9.200L32.7 43 1.5 27.200c-.6-1.2-.6-2.5-.3-3.700z" fill="#e6c493"/><path d="M13.2 4.400c1.8-.6 4-.8 5.8-.4L40.6 17.4 31.4 39.4 3.6 25z" fill="#f6ead0"/><path d="M35 19c1.6-.4 3.4 0 4.6 1.2-1 4.8-2.4 9-4.4 13.8-.8 2.2-1.6 4.2-3 5.4-1.2-1.2-1.4-2.8-.8-4.6 1.6-2.6 1.2-5 2.2-7.4.8-2.8.4-5.6 1.4-8.400z" fill="#db4d2c" opacity=".8"/><path d="M36.6 13.400l2.6 1.8-.6 3.2-2.4-.8z" fill="#e0603a" opacity=".7"/><path d="M6.6 13.200c2.4 2.6 5.4 1 7.6 2.4 2-.8 3.4-2 5-3.400M7 12.600l1.4-2.8" stroke="#d2502e" stroke-width="1.5" fill="none" opacity=".8"/><path d="M24 11.600l1.6 1.200M26.6 13.600l1 1.600M25 32.400l1.6 1.400M13.2 7l1.4.8" stroke="#dd6a3a" stroke-width="1.5" opacity=".8"/><path d="M12 20c3 2 6 .6 9 2.400s5 .8 8 2.6" stroke="#fbf4e2" stroke-width="2.4" fill="none"/><path d="M1.5 27.2 32.7 43 42.4 26" fill="none" stroke="#d6ad78" stroke-width="1.8"/><path d="M5 29l2 1M9.6 31.400l2 1M15 34l2 1M21 37l2 1.200M27 40l2 1" stroke="#7a5a3a" stroke-width=".9"/></g><g opacity=".75" filter="url(#bl)"><path d="M16 10l.8.400M21 15.600l.8.400M28 20l.8.400M18 22l.8.400M12 17l.8.400M24 26l.8.400M30 28l.8.400M14 26.600l.8.400M22 31l.8.400M9 21l.8.400M33 23l.8.400M20 8l.8.400M26 17l.8.400M17 29l.8.4" stroke="#b98a52" stroke-width="1.1"/></g></svg>
<span class="t" style="left:1361.6px;top:687.9px;font-size:12px;line-height:12px;color:#1f6b8f;transform:scaleX(0.954);">Pizza</span>
<div class="b" style="left:1554px;top:597px;width:68px;height:44px;"></div>
<span class="t" style="left:1581.3px;top:610.4px;font-size:19px;line-height:19px;font-weight:700;color:#dc143c;transform:scaleX(0.976);">C</span>
<div class="b" style="left:1627px;top:597px;width:68px;height:44px;"></div>
<span class="t" style="left:1647.7px;top:610.4px;font-size:19px;line-height:19px;font-weight:700;transform:scaleX(1.053);">Ok</span>
<div class="b" style="left:1410px;top:644px;width:68px;height:44px;"></div>
<span class="t" style="left:1437.4px;top:657.4px;font-size:19px;line-height:19px;font-weight:700;color:#1f6b8f;transform:scaleX(1.248);">7</span>
<div class="b" style="left:1482px;top:644px;width:68px;height:44px;"></div>
<span class="t" style="left:1509.4px;top:657.4px;font-size:19px;line-height:19px;font-weight:700;color:#1f6b8f;transform:scaleX(1.248);">8</span>
<div class="b" style="left:1554px;top:644px;width:68px;height:44px;"></div>
<span class="t" style="left:1581.4px;top:657.4px;font-size:19px;line-height:19px;font-weight:700;color:#1f6b8f;transform:scaleX(1.248);">9</span>
<div class="b" style="left:1627px;top:644px;width:68px;height:44px;"></div>
<span class="t" style="left:1654.5px;top:657.4px;font-size:19px;line-height:19px;font-weight:700;transform:scaleX(1.033);">X</span>
<div class="b" style="left:1410px;top:692px;width:68px;height:44px;"></div>
<span class="t" style="left:1437.4px;top:705.4px;font-size:19px;line-height:19px;font-weight:700;color:#1f6b8f;transform:scaleX(1.248);">4</span>
<div class="b" style="left:1482px;top:692px;width:68px;height:44px;"></div>
<span class="t" style="left:1509.4px;top:705.4px;font-size:19px;line-height:19px;font-weight:700;color:#1f6b8f;transform:scaleX(1.248);">5</span>
<div class="b" style="left:1554px;top:692px;width:68px;height:44px;"></div>
<span class="t" style="left:1581.4px;top:705.4px;font-size:19px;line-height:19px;font-weight:700;color:#1f6b8f;transform:scaleX(1.248);">6</span>
<div class="b" style="left:1627px;top:692px;width:68px;height:44px;"></div>
<span class="t" style="left:1657.1px;top:705.4px;font-size:19px;line-height:19px;font-weight:700;transform:scaleX(1.233);">-</span>
<div class="b" style="left:1410px;top:740px;width:68px;height:44px;"></div>
<span class="t" style="left:1437.4px;top:753.4px;font-size:19px;line-height:19px;font-weight:700;color:#1f6b8f;transform:scaleX(1.248);">1</span>
<div class="b" style="left:1482px;top:740px;width:68px;height:44px;"></div>
<span class="t" style="left:1509.4px;top:753.4px;font-size:19px;line-height:19px;font-weight:700;color:#1f6b8f;transform:scaleX(1.248);">2</span>
<div class="b" style="left:1554px;top:740px;width:68px;height:44px;"></div>
<span class="t" style="left:1581.4px;top:753.4px;font-size:19px;line-height:19px;font-weight:700;color:#1f6b8f;transform:scaleX(1.248);">3</span>
<div class="b" style="left:1627px;top:740px;width:68px;height:44px;"></div>
<span class="t" style="left:1645.5px;top:753.4px;font-size:19px;line-height:19px;font-weight:700;transform:scaleX(1.334);">%-</span>
<div class="b" style="left:1410px;top:788px;width:68px;height:44px;"></div>
<span class="t" style="left:1437.4px;top:801.4px;font-size:19px;line-height:19px;font-weight:700;color:#1f6b8f;transform:scaleX(1.248);">0</span>
<div class="b" style="left:1482px;top:788px;width:68px;height:44px;"></div>
<span class="t" style="left:1503.0px;top:801.4px;font-size:19px;line-height:19px;font-weight:700;color:#1f6b8f;transform:scaleX(1.235);">00</span>
<div class="b" style="left:1554px;top:788px;width:68px;height:44px;"></div>
<span class="t" style="left:1585.2px;top:801.4px;font-size:19px;line-height:19px;font-weight:700;color:#1f6b8f;transform:scaleX(1.060);">.</span>
<div class="b" style="left:1627px;top:788px;width:68px;height:44px;"></div>
<span class="t" style="left:1641.8px;top:801.4px;font-size:19px;line-height:19px;font-weight:700;transform:scaleX(1.375);">%+</span>
<div class="b" style="left:6px;top:840px;width:70px;height:74px;"></div>
<span class="t" style="left:27.2px;top:897.8px;font-size:12px;line-height:12px;color:#1f5f82;transform:scaleX(0.982);">Reso</span>
<svg class="i" style="left:31.6px;top:871.6px" width="18" height="20" viewBox="0 0 18 20"><path d="M9.9.5 1 5.600v9.200l8.2 3.9 8.1-4.600V6.300z" fill="none" stroke="#1a6b93" stroke-width="1.1" stroke-linejoin="round"/><path d="M9.2 9.9 17.3 6.300v7.800l-8.1 4.600z" fill="#1a6b93"/><path d="M1 5.600l8.2 4.300M9.2 9.900v8.8" stroke="#1a6b93" stroke-width="1.1" fill="none"/><path d="M15.6.9.4 16.9" stroke="#1a6b93" stroke-width="1.2"/></svg>
<div class="b" style="left:81px;top:840px;width:70px;height:74px;"></div>
<span class="t" style="left:91.0px;top:897.8px;font-size:12px;line-height:12px;color:#1f5f82;transform:scaleX(1.056);">Difettoso</span>
<svg class="i" style="left:109.8px;top:871.8px" width="12" height="19" viewBox="0 0 12 19"><path d="M.5.600h4.300l1 2.6-1.1 1.9 1.6 1.600L7 4.2 5.9 2.4 6.9.6h4.600v4.200c0 3.3-2 5.3-4.5 5.700v5.600c1.4.2 2.6.8 2.8 2.500H2.200c.2-1.7 1.4-2.3 2.8-2.500v-5.600C2.5 10.1.5 8.1.5 4.800z" fill="#1a6b93"/></svg>
<div class="b" style="left:156px;top:840px;width:70px;height:74px;"></div>
<span class="t" style="left:165.8px;top:897.8px;font-size:12px;line-height:12px;color:#1f5f82;transform:scaleX(1.037);">Omaggio</span>
<span class="t" style="left:186.2px;top:872.4px;font-size:21px;line-height:21px;font-weight:700;color:#1f6b8f;transform:scaleX(0.975);">$</span>
<div class="b" style="left:305px;top:840px;width:70px;height:74px;"></div>
<svg class="i" style="left:330.5px;top:872px" width="19" height="19" viewBox="0 0 19 19"><path d="M.3 1.1h18.4M.3 17.9h18.4" stroke="#1a6b93" stroke-width="1.5"/><path d="M6.4 6.3l6.2 6.200M12.6 6.3l-6.2 6.2" stroke="#ea7a45" stroke-width="1.5"/></svg>
<div style="left:308.5px;top:897.8px;width:62.5px;height:15.6px;overflow:hidden"><span class="t" style="left:-4.5px;top:0.0px;font-size:12px;line-height:12px;color:#1f5f82;transform:scaleX(1.064);">Cancella riga</span></div>
<div class="b" style="left:380px;top:840px;width:70px;height:74px;"></div>
<span class="t" style="left:386.2px;top:897.8px;font-size:12px;line-height:12px;color:#1f5f82;transform:scaleX(1.077);">SubTotale</span>
<svg class="i" style="left:405.2px;top:872px" width="19" height="19" viewBox="0 0 19 19"><rect x=".4" y=".4" width="18.2" height="18.2" rx="3.4" fill="#1a6b93"/><rect x="2" y="2" width="6.4" height="6.4" rx="1" fill="#e4f3fc"/><rect x="10.6" y="2" width="6.4" height="6.4" rx="1" fill="#e4f3fc"/><path d="M3.5 3.500l3.4 3.400M6.9 3.5 3.5 6.900M11.8 5.200h4M13.8 3.200v4" stroke="#1a6b93" stroke-width="1.3"/><path d="M3.2 13.600h4M11.8 12.400h4M11.8 15h4" stroke="#e4f3fc" stroke-width="1.5"/></svg>
<div class="y" style="left:678px;top:840px;width:70px;height:74px;"></div>
<span class="t" style="left:700.0px;top:863.8px;font-size:12px;line-height:12px;transform:scaleX(1.025);">Lista</span>
<span class="t" style="left:693.5px;top:879.8px;font-size:12px;line-height:12px;transform:scaleX(1.083);">Articoli</span>
<div class="gr" style="left:753px;top:840px;width:70px;height:74px;"></div>
<span class="t" style="left:772.0px;top:863.8px;font-size:12px;line-height:12px;transform:scaleX(1.010);">Buoni</span>
<span class="t" style="left:772.0px;top:879.8px;font-size:12px;line-height:12px;transform:scaleX(1.056);">Liberi</span>
<div class="y" style="left:1052px;top:840px;width:70px;height:74px;"></div>
<span class="t" style="left:1061.8px;top:897.8px;font-size:12px;line-height:12px;transform:scaleX(1.037);">Omaggio</span>
<span class="t" style="left:1082.2px;top:872.4px;font-size:21px;line-height:21px;font-weight:700;color:#1e7a6a;transform:scaleX(0.975);">$</span>
<div class="y" style="left:1350px;top:840px;width:70px;height:74px;"></div>
<span class="t" style="left:1360.5px;top:897.8px;font-size:12px;line-height:12px;transform:scaleX(1.035);">Cassetto</span>
<svg class="i" style="left:1375.5px;top:871px" width="20" height="20" viewBox="0 0 20 20"><path d="M3.6 6.400a2.6 2.6 0 0 1 5.2 0V8H3.600z" fill="#e9f58a" stroke="#2f9150" stroke-width="1.2"/><path d="M12.2.8h5.600v1.800h-5.600zM14 2.600h2V6h-2z" fill="#e9f58a" stroke="#2f9150" stroke-width="1.1"/><path d="M1.6 6.200h17v9h-17z" fill="#e9f58a" stroke="#2f9150" stroke-width="1.3"/><path d="M.7 15h18.800v4.200H.7z" fill="#e9f58a" stroke="#2f9150" stroke-width="1.3" stroke-linejoin="round"/><path d="M3.6 10.400h5.200v2.800H3.600z" fill="none" stroke="#2f9150" stroke-width="1.1"/><path d="M11 8.600h1.400M13.6 8.600H15M16.2 8.600h1.400M11 10.800h1.400M13.6 10.800H15M16.2 10.800h1.400M11 13h1.400M13.6 13H15M16.2 13h1.4" stroke="#2f9150" stroke-width="1.2"/></svg>
<div class="gr" style="left:1425px;top:840px;width:70px;height:74px;"></div>
<span class="t" style="left:1433.2px;top:897.8px;font-size:12px;line-height:12px;transform:scaleX(1.055);">Scontrino</span>
<svg class="i" style="left:1441px;top:854px" width="37" height="37" viewBox="0 0 37 37"><rect width="37" height="37" fill="#fbfbfb"/><g filter="url(#bl)"><path d="M15.5.6 32.9 6.1 32.4 15 32 25.4 19.3 36.2 2.3 29.1 1.9 16.400z" fill="#2a2a2b"/><path d="M15.5.6 32.9 6.1 32.4 15 20.2 21.6 1.9 16.400z" fill="#414244"/><path d="M20.2 21.6 32.4 15 32 25.4 19.3 36.200z" fill="#222223"/><path d="M1.9 16.4 20.2 21.6 32.4 15" fill="none" stroke="#6a6b6e" stroke-width="1"/><path d="M7.4 11.8 11 8.8 21.4 12.4 20 16.200z" fill="#0e0e0f"/><circle cx="22.7" cy="14.3" r="1.3" fill="#b9bbbf"/><path d="M3.4 19.400l1.6.5" stroke="#ddd" stroke-width=".8"/></g></svg>
<div class="gr" style="left:1500px;top:840px;width:70px;height:74px;"></div>
<span class="t" style="left:1513.5px;top:871.8px;font-size:12px;line-height:12px;transform:scaleX(1.079);">Fattura</span>
</body></html>
